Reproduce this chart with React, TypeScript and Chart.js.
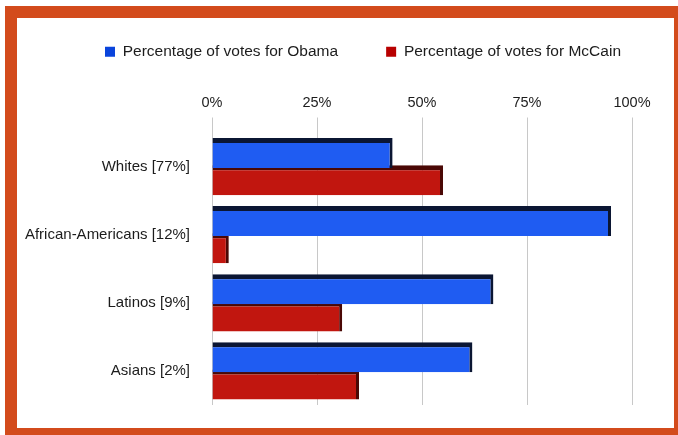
import React, { useEffect, useRef } from 'react';
import { Chart, registerables } from 'chart.js';

Chart.register(...registerables);

const categories = ['Whites [77%]', 'African-Americans [12%]', 'Latinos [9%]', 'Asians [2%]'];
const obamaVotes = [43, 95, 67, 62];
const mccainVotes = [55, 4, 31, 35];
const seriesNames = ['Percentage of votes for Obama', 'Percentage of votes for McCain'];
const xTicks = [0, 25, 50, 75, 100];

const FONT = 'Liberation Sans, Arial, sans-serif';
const TEXT = '#1c1c1c';

export default function App() {
  const ref = useRef<HTMLCanvasElement>(null);

  useEffect(() => {
    const legendColors = ['#0a44dc', '#b80000'];
    const chart = new Chart(ref.current!, {
      type: 'bar',
      data: {
        labels: categories,
        datasets: [
          {
            label: seriesNames[0],
            data: obamaVotes,
            backgroundColor: '#1f5cf2',
            borderColor: '#0b1633',
            borderWidth: { top: 5, right: 3, bottom: 0, left: 0 },
            barPercentage: 1.1,
            categoryPercentage: 0.8,
          },
          {
            label: seriesNames[1],
            data: mccainVotes,
            backgroundColor: '#c1160f',
            borderColor: '#4a0805',
            borderWidth: { top: 5, right: 3, bottom: 0, left: 0 },
            barPercentage: 1.1,
            categoryPercentage: 0.8,
          },
        ],
      },
      options: {
        indexAxis: 'y',
        responsive: false,
        animation: false,
        layout: { padding: { left: 0, right: 5, top: -22, bottom: 15 } },
        plugins: {
          tooltip: { enabled: false },
          legend: {
            position: 'top',
            align: 'end',
            labels: {
              boxWidth: 10,
              boxHeight: 10,
              padding: 48,
              color: TEXT,
              font: { family: FONT, size: 15.5 },
              generateLabels: (c: any) => {
                const items = Chart.defaults.plugins.legend.labels.generateLabels(c);
                return items.map((it: any, i: number) => ({
                  ...it,
                  fillStyle: legendColors[i],
                  strokeStyle: legendColors[i],
                  lineWidth: 0,
                }));
              },
            },
          },
        },
        scales: {
          x: {
            position: 'top',
            min: 0,
            max: 100,
            afterBuildTicks: (s: any) => {
              s.ticks = xTicks.map((v) => ({ value: v }));
            },
            afterFit: (s: any) => {
              s.height = 63;
            },
            ticks: {
              callback: (v: any) => v + '%',
              color: TEXT,
              font: { family: FONT, size: 14.5 },
              padding: 6,
            },
            grid: { color: '#c8c8c8', tickLength: 15, drawTicks: true },
            border: { display: false },
          },
          y: {
            afterFit: (s: any) => {
              s.width = 195;
            },
            ticks: { color: TEXT, font: { family: FONT, size: 15 }, padding: 14 },
            grid: { display: false },
            border: { display: false },
          },
          spacer: {
            type: 'linear',
            axis: 'y',
            position: 'right',
            ticks: { display: false },
            grid: { display: false },
            border: { display: false },
            afterFit: (s: any) => {
              s.width = 37;
            },
          },
        },
      },
    } as any);
    return () => chart.destroy();
  }, []);

  return (
    <div style={{ position: 'fixed', left: 0, top: 0, width: 678, height: 435, background: '#fff', overflow: 'hidden' }}>
      <div style={{ position: 'absolute', left: 5, top: 6, width: 673, height: 429, background: '#d34b1c' }} />
      <div style={{ position: 'absolute', left: 17, top: 18, width: 657, height: 410, background: '#fff' }}>
        <canvas ref={ref} width={657} height={410} style={{ display: 'block' }} />
      </div>
    </div>
  );
}
